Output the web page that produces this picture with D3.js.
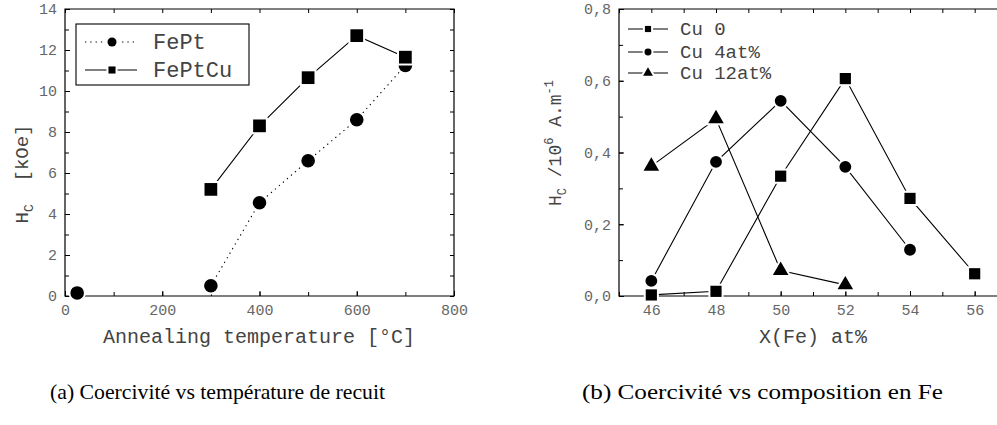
<!DOCTYPE html>
<html>
<head>
<meta charset="utf-8">
<script src="https://cdn.jsdelivr.net/npm/d3@7"></script>
<style>
  body { margin: 0; background: #fff; }
  svg { display: block; }
  .tick text { font-family: "Liberation Mono", monospace; fill: #666; }
</style>
</head>
<body>
<svg id="chart" width="997" height="425"></svg>
<script>
// ---- data: (a) coercivity vs annealing temperature ----
const annealTemps = [25, 300, 400, 500, 600, 700];
const hcFePt = [0.15, 0.5, 4.55, 6.6, 8.6, 11.25];
const cuTemps = [300, 400, 500, 600, 700];
const hcFePtCu = [5.2, 8.3, 10.65, 12.7, 11.65];

// ---- data: (b) coercivity vs Fe content ----
const feCu0 = [46, 48, 50, 52, 54, 56];
const hcCu0 = [0.003, 0.013, 0.334, 0.606, 0.272, 0.062];
const feCu4 = [46, 48, 50, 52, 54];
const hcCu4 = [0.042, 0.374, 0.544, 0.36, 0.129];
const feCu12 = [46, 48, 50, 52];
const hcCu12 = [0.362, 0.494, 0.071, 0.031];

const tempTicks = [0, 200, 400, 600, 800];
const hcTicks = [0, 2, 4, 6, 8, 10, 12, 14];
const feTicks = [46, 48, 50, 52, 54, 56];
const hcbTicks = [0, 0.2, 0.4, 0.6, 0.8];

const captions = ["(a) Coercivité vs température de recuit", "(b) Coercivité vs composition en Fe"];

const svg = d3.select('#chart');
const mono = '"Liberation Mono", monospace';

// draws a framed panel with inward ticks on all four sides
function frame(g, x, y, xMajor, xMinor, yMajor, yMinor, yFmt) {
  const [x0, x1] = x.range(), [y0, y1] = y.range();
  const right = Math.min(x1, 997);

  g.append('g').attr('transform', `translate(0,${y0})`)
    .call(d3.axisBottom(x).tickValues(xMinor).tickSize(-4).tickFormat(''))
    .call(a => a.select('.domain').remove());
  g.append('g').attr('transform', `translate(0,${y0})`)
    .call(d3.axisBottom(x).tickValues(xMajor).tickSize(-5).tickPadding(8))
    .call(a => a.select('.domain').remove())
    .selectAll('text').style('font-size', '15px');
  g.append('g').attr('transform', `translate(0,${y1})`)
    .call(d3.axisTop(x).tickValues(xMinor.filter(v => x(v) <= 997)).tickSize(-4).tickFormat(''))
    .call(a => a.select('.domain').remove());

  g.append('g').attr('transform', `translate(${x0},0)`)
    .call(d3.axisLeft(y).tickValues(yMinor).tickSize(-4).tickFormat(''))
    .call(a => a.select('.domain').remove());
  g.append('g').attr('transform', `translate(${x0},0)`)
    .call(d3.axisLeft(y).tickValues(yMajor).tickSize(-5).tickPadding(8).tickFormat(yFmt))
    .call(a => a.select('.domain').remove())
    .selectAll('text').style('font-size', '15px');
  if (x1 <= 997) {
    g.append('g').attr('transform', `translate(${x1},0)`)
      .call(d3.axisRight(y).tickValues(yMinor).tickSize(-4).tickFormat(''))
      .call(a => a.select('.domain').remove());
  }

  g.append('path')
    .attr('d', x1 <= 997
      ? `M${x0},${y1}H${x1}V${y0}H${x0}Z`
      : `M${right + 2},${y1}H${x0}V${y0}H${right + 2}`)
    .attr('fill', 'none').attr('stroke', '#000').attr('stroke-width', 1.2);
}

function marker(g, type, size, cx, cy) {
  const p = d3.symbol().type(type).size(size)();
  g.append('path').attr('d', p).attr('transform', `translate(${cx},${cy})`)
    .attr('fill', '#fff').attr('stroke', '#fff').attr('stroke-width', 4);
  g.append('path').attr('d', p).attr('transform', `translate(${cx},${cy})`)
    .attr('fill', '#000');
}

function series(g, x, y, xs, ys, type, size, dash, skipFirst) {
  const pts = xs.map((v, i) => [x(v), y(ys[i])]);
  const linePts = skipFirst ? pts.slice(1) : pts;
  g.append('path').attr('d', d3.line()(linePts))
    .attr('fill', 'none').attr('stroke', '#000').attr('stroke-width', 1.1)
    .attr('stroke-dasharray', dash);
  pts.forEach(p => marker(g, type, size, p[0], p[1]));
}

// ---------- panel (a) ----------
const xa = d3.scaleLinear().domain([0, 800]).range([65, 454]);
const ya = d3.scaleLinear().domain([0, 14]).range([296, 9]);
const ga = svg.append('g');
frame(ga, xa, ya, tempTicks, d3.range(0, 801, 100), hcTicks, d3.range(0, 15, 1), d3.format('d'));

// the as-deposited point is not joined to the annealed ones
series(ga, xa, ya, annealTemps, hcFePt, d3.symbolCircle, 145, '1.3,4', true);
series(ga, xa, ya, cuTemps, hcFePtCu, d3.symbolSquare, 162, null, false);

ga.append('rect').attr('x', 76).attr('y', 24).attr('width', 173).attr('height', 61)
  .attr('fill', '#fff').attr('stroke', '#000').attr('stroke-width', 1.1);
[['FePt', d3.symbolCircle, 64, '1.3,4', 42], ['FePtCu', d3.symbolSquare, 50, null, 70]].forEach(([name, type, size, dash, ly]) => {
  ga.append('line').attr('x1', 85).attr('x2', 137).attr('y1', ly).attr('y2', ly)
    .attr('stroke', '#000').attr('stroke-width', 1.1).attr('stroke-dasharray', dash);
  marker(ga, type, size, 112, ly);
  ga.append('text').attr('x', 153).attr('y', ly + 7).text(name)
    .attr('font-family', mono).attr('font-size', 22).attr('fill', '#444');
});

ga.append('text').attr('x', 259).attr('y', 343).attr('text-anchor', 'middle')
  .attr('font-family', mono).attr('font-size', 20).attr('fill', '#444')
  .text('Annealing temperature [°C]');
const yla = ga.append('text').attr('transform', 'translate(28,174) rotate(-90)')
  .attr('text-anchor', 'middle').attr('font-family', mono).attr('font-size', 19).attr('fill', '#444')
  .attr('xml:space', 'preserve');
yla.append('tspan').text('H');
yla.append('tspan').attr('font-size', 13).attr('dy', 5).text('C');
yla.append('tspan').attr('dy', -5).text('  [kOe]');

// ---------- panel (b) ----------
const xb = d3.scaleLinear().domain([45, 57]).range([619, 1007]);
const yb = d3.scaleLinear().domain([0, 0.8]).range([296, 9]);
const gb = svg.append('g');
frame(gb, xb, yb, feTicks, d3.range(45, 58, 1), hcbTicks, d3.range(0, 0.81, 0.1).map(v => +v.toFixed(1)),
  d => d3.format('.1f')(d).replace('.', ','));

series(gb, xb, yb, feCu0, hcCu0, d3.symbolSquare, 125, null, false);
series(gb, xb, yb, feCu4, hcCu4, d3.symbolCircle, 110, null, false);
series(gb, xb, yb, feCu12, hcCu12, d3.symbolTriangle, 105, null, false);

[['Cu 0', d3.symbolSquare, 38, 29], ['Cu 4at%', d3.symbolCircle, 38, 52], ['Cu 12at%', d3.symbolTriangle, 42, 73]].forEach(([name, type, size, ly]) => {
  gb.append('line').attr('x1', 628).attr('x2', 668).attr('y1', ly).attr('y2', ly)
    .attr('stroke', '#000').attr('stroke-width', 1.1);
  marker(gb, type, size, 648, ly);
  gb.append('text').attr('x', 680).attr('y', ly + 6).text(name)
    .attr('font-family', mono).attr('font-size', 19).attr('fill', '#444');
});

gb.append('text').attr('x', 813).attr('y', 343).attr('text-anchor', 'middle')
  .attr('font-family', mono).attr('font-size', 20).attr('fill', '#444')
  .text('X(Fe) at%');
const ylb = gb.append('text').attr('transform', 'translate(561,143) rotate(-90)')
  .attr('text-anchor', 'middle').attr('font-family', mono).attr('font-size', 18).attr('fill', '#444');
ylb.append('tspan').text('H');
ylb.append('tspan').attr('font-size', 12).attr('dy', 5).text('C');
ylb.append('tspan').attr('dy', -5).text(' /10');
ylb.append('tspan').attr('font-size', 12).attr('dy', -8).text('6');
ylb.append('tspan').attr('dy', 8).text(' A.m');
ylb.append('tspan').attr('font-size', 12).attr('dy', -8).text('-1');

// ---------- captions ----------
const capX = [50, 582], capW = [335, 361];
svg.selectAll('text.caption').data(captions).enter().append('text')
  .attr('class', 'caption')
  .attr('x', (d, i) => capX[i]).attr('y', 399)
  .attr('textLength', (d, i) => capW[i]).attr('lengthAdjust', 'spacingAndGlyphs')
  .attr('font-family', '"Liberation Serif", serif').attr('font-size', 22).attr('fill', '#000')
  .text(d => d);
</script>
</body>
</html>
